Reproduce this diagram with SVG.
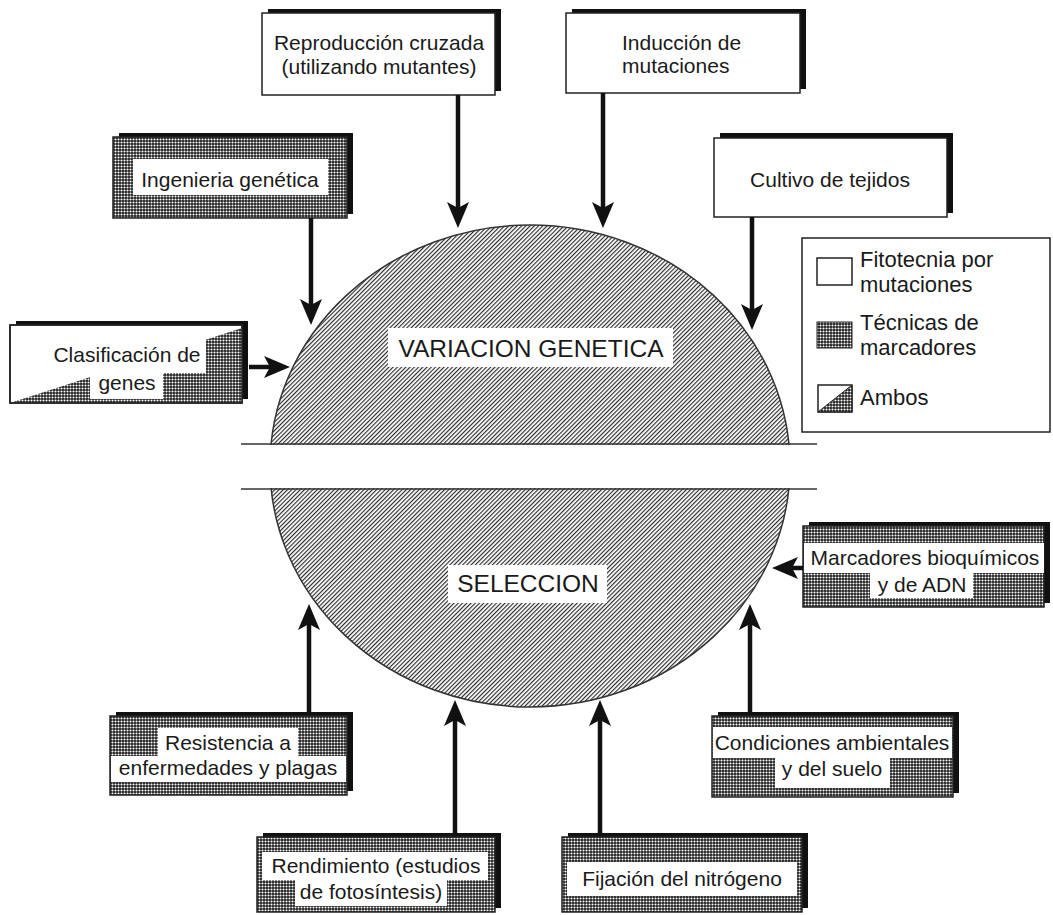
<svg xmlns="http://www.w3.org/2000/svg" width="1053" height="915" viewBox="0 0 1053 915">
<defs>
  <pattern id="dots" width="3" height="3" patternUnits="userSpaceOnUse">
    <rect width="3" height="3" fill="#1e1e1e"/>
    <circle cx="1.5" cy="1.5" r="1.05" fill="#fff"/>
  </pattern>
  <pattern id="hatch" width="3" height="3" patternUnits="userSpaceOnUse" patternTransform="rotate(-45)">
    <rect width="3" height="3" fill="#fff"/>
    <rect width="3" height="1.15" fill="#2a2a2a"/>
  </pattern>
  <marker id="arrow" markerUnits="userSpaceOnUse" viewBox="0 0 26 22" markerWidth="26" markerHeight="22" refX="16" refY="11" orient="auto">
    <path d="M0,0 L26,11 L0,22 L6,11 Z" fill="#111"/>
  </marker>
  <style>
    .shadow{fill:#111}
    .box{fill:#fff;stroke:#222;stroke-width:1.5}
    .dbox{fill:url(#dots);stroke:#222;stroke-width:1.5}
    .cut{fill:#fff}
    .t{font-family:"Liberation Sans",Arial,Helvetica,sans-serif;font-size:21px;fill:#1a1a1a;text-anchor:middle}
    .tl{font-family:"Liberation Sans",Arial,Helvetica,sans-serif;font-size:22px;fill:#1a1a1a}
    .big{font-family:"Liberation Sans",Arial,Helvetica,sans-serif;font-size:24.5px;fill:#1a1a1a;text-anchor:middle}
    .conn{stroke:#111;stroke-width:4.5;fill:none;marker-end:url(#arrow)}
  </style>
</defs>
<rect width="1053" height="915" fill="#fff"/>

<g id="center">
  <ellipse cx="530" cy="466" rx="260" ry="241" fill="url(#hatch)" stroke="#333" stroke-width="1.5"/>
  <rect x="236" y="445" width="590" height="43" fill="#fff"/>
  <line x1="241" y1="444" x2="817" y2="444" stroke="#333" stroke-width="1.5"/>
  <line x1="241" y1="489" x2="817" y2="489" stroke="#333" stroke-width="1.5"/>
  <rect x="388" y="328" width="285" height="39" fill="#fff"/>
  <text class="big" x="531" y="357">VARIACION GENETICA</text>
  <rect x="448" y="565" width="159" height="38" fill="#fff"/>
  <text class="big" x="528" y="592">SELECCION</text>
</g>

<g id="n-reproduccion">
  <rect class="shadow" x="268" y="9" width="233" height="82"/>
  <rect class="box" x="262" y="13" width="233" height="82"/>
  <text class="t" x="379" y="50">Reproducción cruzada</text>
  <text class="t" x="379" y="74">(utilizando mutantes)</text>
</g>

<g id="n-induccion">
  <rect class="shadow" x="572" y="9" width="234" height="80"/>
  <rect class="box" x="566" y="13" width="234" height="80"/>
  <text class="t" x="622" y="50" style="text-anchor:start">Inducción de</text>
  <text class="t" x="622" y="73" style="text-anchor:start">mutaciones</text>
</g>

<g id="n-cultivo">
  <rect class="shadow" x="720" y="133" width="233" height="80"/>
  <rect class="box" x="714" y="138" width="233" height="79"/>
  <text class="t" x="830" y="187">Cultivo de tejidos</text>
</g>

<g id="n-ingenieria">
  <rect class="shadow" x="119" y="133" width="234" height="81"/>
  <rect class="dbox" x="113" y="137" width="234" height="81"/>
  <rect class="cut" x="133" y="159" width="195" height="36"/>
  <text class="t" x="230" y="187">Ingenieria genética</text>
</g>

<g id="n-clasificacion">
  <rect class="shadow" x="16" y="321" width="232" height="78"/>
  <rect class="box" x="10" y="325" width="232" height="78"/>
  <polygon points="10,403 242,328 242,403" fill="url(#dots)"/>
  <rect class="cut" x="46" y="338" width="160" height="35"/>
  <rect class="cut" x="90" y="373" width="73" height="26"/>
  <rect x="10" y="325" width="232" height="78" fill="none" stroke="#222" stroke-width="1.5"/>
  <text class="t" x="127" y="362">Clasificación de</text>
  <text class="t" x="127" y="390">genes</text>
</g>

<g id="n-marcadores">
  <rect class="shadow" x="809" y="522" width="241" height="81"/>
  <rect class="dbox" x="803" y="526" width="241" height="81"/>
  <rect class="cut" x="804" y="543" width="240" height="30"/>
  <rect class="cut" x="870" y="573" width="103" height="25"/>
  <text class="t" x="925" y="565">Marcadores bioquímicos</text>
  <text class="t" x="922" y="592">y de ADN</text>
</g>

<g id="n-resistencia">
  <rect class="shadow" x="116" y="712" width="237" height="79"/>
  <rect class="dbox" x="110" y="716" width="237" height="79"/>
  <rect class="cut" x="158" y="728" width="140" height="28"/>
  <rect class="cut" x="111" y="756" width="235" height="26"/>
  <text class="t" x="228" y="750">Resistencia a</text>
  <text class="t" x="228" y="775">enfermedades y plagas</text>
</g>

<g id="n-condiciones">
  <rect class="shadow" x="718" y="712" width="241" height="81"/>
  <rect class="dbox" x="712" y="716" width="241" height="81"/>
  <rect class="cut" x="713" y="727" width="239" height="31"/>
  <rect class="cut" x="775" y="758" width="115" height="30"/>
  <text class="t" x="832" y="750">Condiciones ambientales</text>
  <text class="t" x="832" y="776">y del suelo</text>
</g>

<g id="n-rendimiento">
  <rect class="shadow" x="263" y="833" width="238" height="75"/>
  <rect class="dbox" x="257" y="837" width="238" height="75"/>
  <rect class="cut" x="262" y="852" width="226" height="28"/>
  <rect class="cut" x="295" y="880" width="152" height="26"/>
  <text class="t" x="376" y="873">Rendimiento (estudios</text>
  <text class="t" x="371" y="899">de fotosíntesis)</text>
</g>

<g id="n-fijacion">
  <rect class="shadow" x="568" y="833" width="240" height="75"/>
  <rect class="dbox" x="562" y="837" width="240" height="75"/>
  <rect class="cut" x="567" y="862" width="230" height="34"/>
  <text class="t" x="682" y="886">Fijación del nitrógeno</text>
</g>

<g id="legend">
  <rect x="802" y="238" width="248" height="194" fill="#fff" stroke="#222" stroke-width="1.5"/>
  <rect x="817" y="258" width="35" height="27" fill="#fff" stroke="#222" stroke-width="1.5"/>
  <text class="tl" x="860" y="267">Fitotecnia por</text>
  <text class="tl" x="860" y="292">mutaciones</text>
  <rect x="817" y="322" width="35" height="26" fill="url(#dots)" stroke="#222" stroke-width="1"/>
  <text class="tl" x="860" y="330">Técnicas de</text>
  <text class="tl" x="860" y="355">marcadores</text>
  <rect x="818" y="385" width="34" height="27" fill="#fff" stroke="#222" stroke-width="1.5"/>
  <polygon points="818,412 852,385 852,412" fill="url(#dots)" stroke="#222" stroke-width="1"/>
  <text class="tl" x="860" y="405">Ambos</text>
</g>

<g id="connectors">
  <line class="conn" x1="458" y1="95" x2="458" y2="218"/>
  <line class="conn" x1="603" y1="93" x2="603" y2="218"/>
  <line class="conn" x1="311" y1="218" x2="311" y2="315"/>
  <line class="conn" x1="752" y1="217" x2="752" y2="320"/>
  <line class="conn" x1="249" y1="367" x2="280" y2="367"/>
  <line class="conn" x1="803" y1="568" x2="782" y2="568"/>
  <line class="conn" x1="309" y1="712" x2="309" y2="614"/>
  <line class="conn" x1="455" y1="833" x2="455" y2="710"/>
  <line class="conn" x1="600" y1="833" x2="600" y2="710"/>
  <line class="conn" x1="750" y1="712" x2="750" y2="614"/>
</g>
</svg>
